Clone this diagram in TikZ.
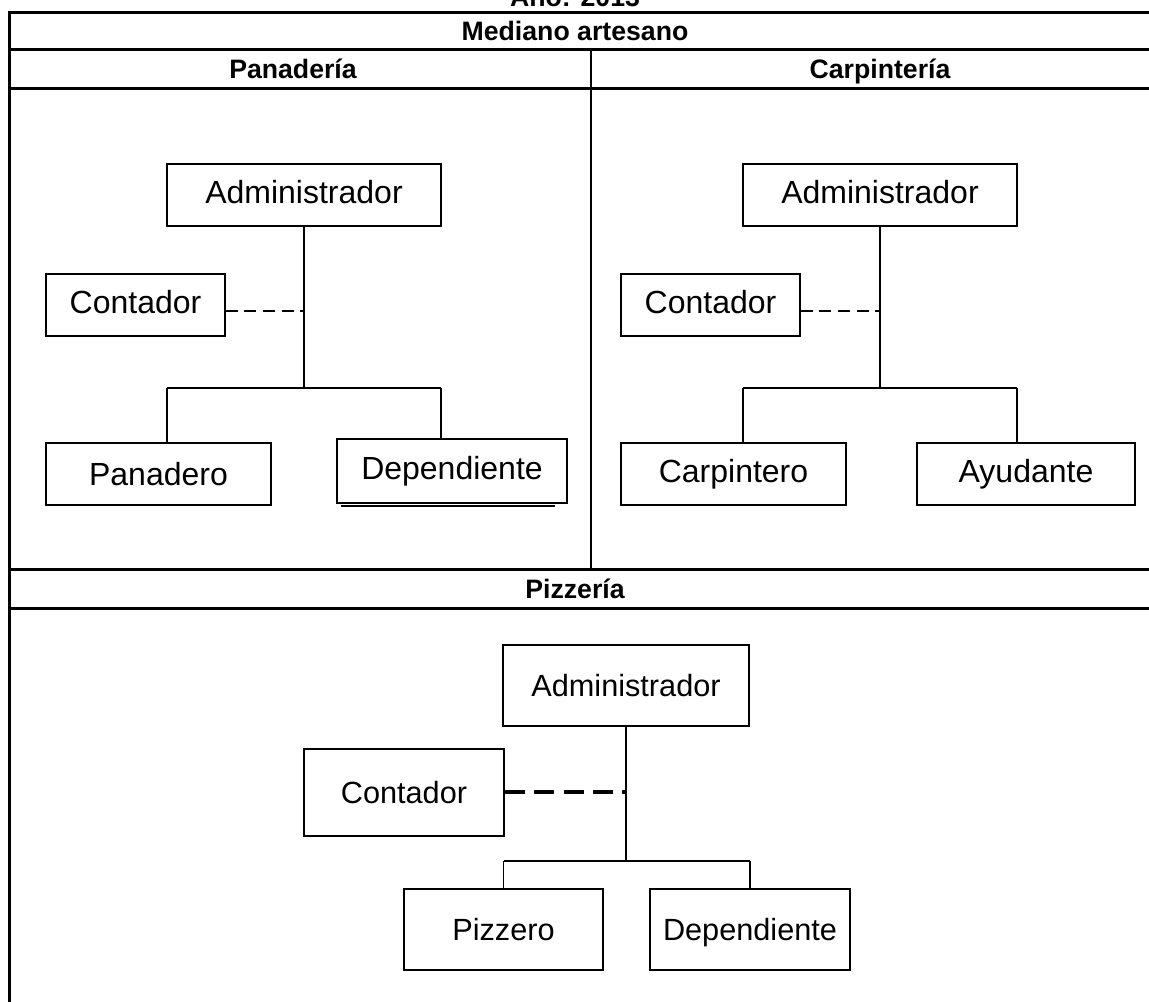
\documentclass[tikz,border=0pt]{standalone}
\usepackage{fontspec}
\setmainfont{Liberation Sans}
\tikzset{
  tline/.style={line width=2.25pt, line cap=rect},
  divline/.style={line width=1.4pt},
  hdr/.style={font=\fontsize{20}{22}\selectfont\bfseries, inner sep=0pt, text height=14.3pt, text depth=0pt},
  orgbox/.style={draw, line width=1.1pt, inner sep=0pt, font=\fontsize{24}{26}\selectfont, text height=17pt, text depth=5pt},
  orgboxz/.style={draw, line width=1.3pt, inner sep=0pt, font=\fontsize{23}{25}\selectfont, text height=16.5pt, text depth=0pt},
  conn/.style={line width=1.1pt},
  dashconn/.style={line width=1.1pt, dash pattern=on 9pt off 5pt},
  dashthick/.style={line width=3pt, dash pattern=on 15pt off 7pt}
}
\begin{document}
\begin{tikzpicture}[x=0.75pt, y=-0.75pt]
\clip (0,0) rectangle (1149,1001);
\useasboundingbox (0,0) rectangle (1149,1001);
% table frame
\coordinate (tl) at (9,12);
\coordinate (tr) at (1152,12);
\coordinate (bl) at (9,1004);
\coordinate (r1l) at (9,49);  \coordinate (r1r) at (1152,49);
\coordinate (r2l) at (9,88);  \coordinate (r2r) at (1152,88);
\coordinate (r3l) at (9,569); \coordinate (r3r) at (1152,569);
\coordinate (r4l) at (9,608); \coordinate (r4r) at (1152,608);
\coordinate (dvt) at (591,49); \coordinate (dvb) at (591,569);
\draw[tline] (tl) -- (tr);
\draw[tline] (r1l) -- (r1r);
\draw[tline] (r2l) -- (r2r);
\draw[tline] (r3l) -- (r3r);
\draw[tline] (r4l) -- (r4r);
\draw[tline] (tl) -- (bl);
\draw[divline] (dvt) -- (dvb);
% headers
\node[hdr] (anio) at (575,-3) {Año: 2013};
\node[hdr] (med) at (575,30.5) {Mediano artesano};
\node[hdr] (pan) at (293,68.5) {Panadería};
\node[hdr] (car) at (880,68.5) {Carpintería};
\node[hdr] (piz) at (575,588.5) {Pizzería};
% ---- Panaderia
\node[orgbox, minimum width=274*0.75pt, minimum height=62*0.75pt] (padm) at (304,195) {Administrador};
\node[orgbox, minimum width=179*0.75pt, minimum height=62*0.75pt] (pcont) at (135.5,305) {Contador};
\node[orgbox, minimum width=225*0.75pt, minimum height=62*0.75pt] (ppan) at (158.5,474) {\raisebox{-2.25pt}{Panadero}};
\node[orgbox, minimum width=230*0.75pt, minimum height=64*0.75pt] (pdep) at (452,471) {Dependiente};
\coordinate (pshl) at (341,506); \coordinate (pshr) at (555,506);
\draw[conn] (pshl) -- (pshr);
\coordinate (pj) at (304,388);
\coordinate (pl) at (167,388);
\coordinate (pr) at (441,388);
\coordinate (pd) at (304,311);
\draw[conn] (padm.south) -- (pj);
\draw[conn] (pl) -- (pr);
\draw[conn] (pl) -- (pl |- ppan.north);
\draw[conn] (pr) -- (pr |- pdep.north);
\draw[dashconn] (pcont.east |- pd) -- (pd);
% ---- Carpinteria
\node[orgbox, minimum width=274*0.75pt, minimum height=62*0.75pt] (cadm) at (880,195) {Administrador};
\node[orgbox, minimum width=179*0.75pt, minimum height=62*0.75pt] (ccont) at (710.5,305) {Contador};
\node[orgbox, minimum width=225*0.75pt, minimum height=62*0.75pt] (ccarp) at (733.5,474) {Carpintero};
\node[orgbox, minimum width=218*0.75pt, minimum height=62*0.75pt] (cayu) at (1026,474) {Ayudante};
\coordinate (cj) at (880,388);
\coordinate (cl) at (743,388);
\coordinate (cr) at (1017,388);
\coordinate (cd) at (880,311);
\draw[conn] (cadm.south) -- (cj);
\draw[conn] (cl) -- (cr);
\draw[conn] (cl) -- (cl |- ccarp.north);
\draw[conn] (cr) -- (cr |- cayu.north);
\draw[dashconn] (ccont.east |- cd) -- (cd);
% ---- Pizzeria
\node[orgboxz, minimum width=246*0.75pt, minimum height=81*0.75pt] (zadm) at (626,685.5) {Administrador};
\node[orgboxz, minimum width=200*0.75pt, minimum height=87*0.75pt] (zcont) at (404,792.5) {Contador};
\node[orgboxz, minimum width=199*0.75pt, minimum height=81*0.75pt] (zpiz) at (503.5,929.5) {Pizzero};
\node[orgboxz, minimum width=200*0.75pt, minimum height=81*0.75pt] (zdep) at (750,929.5) {Dependiente};
\coordinate (zj) at (626,861);
\coordinate (zl) at (503.5,861);
\coordinate (zr) at (750,861);
\coordinate (zd) at (626,792);
\draw[conn] (zadm.south) -- (zj);
\draw[conn] (zl) -- (zr);
\draw[conn] (zl) -- (zpiz.north);
\draw[conn] (zr) -- (zdep.north);
\draw[dashthick] (zcont.east |- zd) -- (zd);
\end{tikzpicture}
\end{document}
